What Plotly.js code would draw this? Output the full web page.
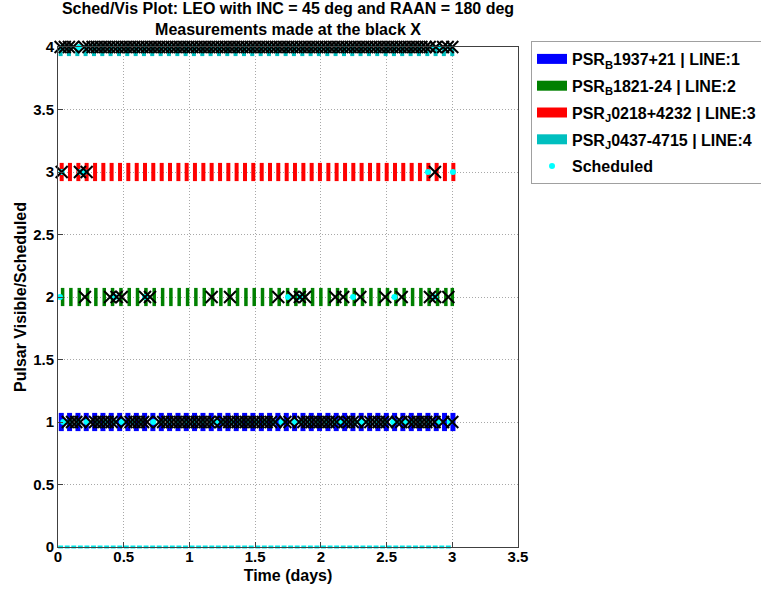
<!DOCTYPE html>
<html>
<head>
<meta charset="utf-8">
<script src="https://cdn.plot.ly/plotly-3.0.1.min.js"></script>
<style>html,body{margin:0;padding:0;background:#fff;}#chart{width:761px;height:590px;}</style>
</head>
<body>
<div id="chart"></div>
<script>
// ---- Data ----
const lineNames = [
  "PSR<sub>B</sub>1937+21 | LINE:1",
  "PSR<sub>B</sub>1821-24 | LINE:2",
  "PSR<sub>J</sub>0218+4232 | LINE:3",
  "PSR<sub>J</sub>0437-4715 | LINE:4"
];
const lineLevels = [1, 2, 3, 4];
const lineColors = ["#0000ff", "#008000", "#ff0000", "#00bfbf"];

// visibility windows (days) for each pulsar line
const visLine1 = [0.025,0.088,0.152,0.215,0.279,0.342,0.405,0.469,0.532,0.596,0.659,0.722,0.786,0.849,0.913,0.976,1.039,1.103,1.166,1.230,1.293,1.356,1.420,1.483,1.547,1.610,1.673,1.737,1.800,1.864,1.927,1.990,2.054,2.117,2.181,2.244,2.307,2.371,2.434,2.498,2.561,2.624,2.688,2.751,2.815,2.878,2.941,3.005];
const visLine2 = [0.035,0.098,0.162,0.225,0.288,0.352,0.415,0.479,0.542,0.605,0.669,0.732,0.796,0.859,0.922,0.986,1.049,1.113,1.176,1.239,1.303,1.366,1.430,1.493,1.556,1.620,1.683,1.747,1.810,1.873,1.937,2.000,2.064,2.127,2.190,2.254,2.317,2.381,2.444,2.507,2.571,2.634,2.698,2.761,2.824,2.888,2.951,3.000];
const visLine3 = [0.028,0.091,0.155,0.218,0.282,0.345,0.408,0.472,0.535,0.599,0.662,0.725,0.789,0.852,0.916,0.979,1.042,1.106,1.169,1.233,1.296,1.359,1.423,1.486,1.550,1.613,1.676,1.740,1.803,1.867,1.930,1.993,2.057,2.120,2.184,2.247,2.310,2.374,2.437,2.501,2.564,2.627,2.691,2.754,2.818,2.881,2.944,3.008];
const visLine4 = [0.020,0.083,0.147,0.210,0.274,0.337,0.400,0.464,0.527,0.591,0.654,0.717,0.781,0.844,0.908,0.971,1.034,1.098,1.161,1.225,1.288,1.351,1.415,1.478,1.542,1.605,1.668,1.732,1.795,1.859,1.922,1.985,2.049,2.112,2.176,2.239,2.302,2.366,2.429,2.493,2.556,2.619,2.683,2.746,2.810,2.873,2.936,3.000];

// scheduled times (days) per line; line 0 = nothing scheduled
const sched0 = [0.02,0.07,0.12,0.17,0.22,0.27,0.32,0.37,0.42,0.47,0.52,0.57,0.62,0.67,0.72,0.77,0.82,0.87,0.92,0.97,1.02,1.07,1.12,1.17,1.22,1.27,1.32,1.37,1.42,1.47,1.52,1.57,1.62,1.67,1.72,1.77,1.82,1.87,1.92,1.97,2.02,2.07,2.12,2.17,2.22,2.27,2.32,2.37,2.42,2.47,2.52,2.57,2.62,2.67,2.72,2.77,2.82,2.87,2.92,2.97];
const sched1 = [0.04,0.091,0.155,0.218,0.297,0.361,0.424,0.485,0.568,0.631,0.725,0.786,0.849,0.913,0.976,1.039,1.103,1.166,1.207,1.256,1.319,1.383,1.446,1.509,1.573,1.636,1.70,1.80,1.851,1.914,1.977,2.041,2.104,2.146,2.196,2.259,2.31,2.361,2.424,2.487,2.55,2.596,2.64,2.691,2.754,2.817,2.89,2.98];
const sched2 = [0.015,0.434,0.662,1.75,1.84,2.245,2.56,2.87];
const sched3 = [0.028,0.17,0.20,2.815,3.005];
const sched4 = [0.036,0.099,0.16,0.216,0.279,0.342,0.405,0.469,0.532,0.596,0.659,0.722,0.786,0.849,0.913,0.976,1.039,1.103,1.166,1.23,1.293,1.356,1.42,1.483,1.547,1.61,1.673,1.737,1.80,1.864,1.927,1.99,2.054,2.117,2.181,2.244,2.307,2.371,2.434,2.498,2.561,2.624,2.688,2.751,2.85,2.90,2.98];

// measurement times (days) per line (black X)
const meas1 = [0.075,0.107,0.139,0.17,0.25,0.282,0.313,0.345,0.377,0.408,0.44,0.52,0.552,0.583,0.615,0.647,0.678,0.77,0.80,0.833,0.865,0.897,0.928,0.96,0.992,1.023,1.055,1.087,1.118,1.15,1.182,1.24,1.272,1.303,1.335,1.367,1.398,1.43,1.462,1.493,1.525,1.557,1.588,1.62,1.652,1.73,1.762,1.835,1.867,1.898,1.93,1.962,1.993,2.025,2.057,2.088,2.12,2.18,2.212,2.243,2.275,2.345,2.377,2.408,2.44,2.472,2.503,2.58,2.612,2.675,2.707,2.738,2.77,2.802,2.833,2.865,2.93,3.0];
const meas2 = [0.205,0.396,0.446,0.485,0.662,0.70,1.169,1.309,1.676,1.79,1.84,1.88,2.11,2.17,2.30,2.49,2.615,2.83,2.87,2.97];
const meas3 = [0.028,0.167,0.218,2.868];
const meas4 = [0.020,0.052,0.083,0.115,0.200,0.232,0.263,0.295,0.327,0.358,0.390,0.422,0.453,0.485,0.517,0.548,0.580,0.612,0.643,0.675,0.707,0.738,0.770,0.802,0.833,0.865,0.897,0.928,0.960,0.992,1.023,1.055,1.087,1.118,1.150,1.182,1.213,1.245,1.277,1.308,1.340,1.372,1.403,1.435,1.467,1.498,1.530,1.562,1.593,1.625,1.657,1.688,1.720,1.752,1.783,1.815,1.847,1.878,1.910,1.942,1.973,2.005,2.037,2.068,2.100,2.132,2.163,2.195,2.227,2.258,2.290,2.322,2.353,2.385,2.417,2.448,2.480,2.512,2.543,2.575,2.607,2.638,2.670,2.702,2.733,2.765,2.797,2.828,2.875,2.930,2.965,3.000];

const xTicks = [0, 0.5, 1, 1.5, 2, 2.5, 3, 3.5];
const yTicks = [0, 0.5, 1, 1.5, 2, 2.5, 3, 3.5, 4];

// ---- Build traces ----
const FONT = "Liberation Sans, Arial, Helvetica, sans-serif";
const visAll = [visLine1, visLine2, visLine3, visLine4];
const schedAll = [sched1, sched2, sched3, sched4];
const measAll = [meas1, meas2, meas3, meas4];
const barWidths = [5, 3.5, 4, 4];

const traces = [];
// legend entries (colour patches)
lineNames.forEach((nm, i) => {
  traces.push({type: "scatter", mode: "lines", x: [null], y: [null], name: nm,
    legendgroup: "g" + i, line: {color: lineColors[i], width: 10}, hoverinfo: "skip"});
});
// visibility bars
visAll.forEach((xs, i) => {
  traces.push({type: "scatter", mode: "markers", x: xs, y: xs.map(() => lineLevels[i]),
    showlegend: false, cliponaxis: true, hoverinfo: "skip",
    marker: {symbol: "line-ns-open", size: 13, color: lineColors[i], line: {color: lineColors[i], width: barWidths[i]}}});
});
// nothing scheduled (line 0)
traces.push({type: "scatter", mode: "markers", x: sched0, y: sched0.map(() => 0),
  showlegend: false, cliponaxis: false, hoverinfo: "skip",
  marker: {symbol: "line-ew-open", size: 3.5, color: "#00e5e5", line: {color: "#00e5e5", width: 3}}});
// scheduled dots
const sx = [], sy = [];
schedAll.forEach((xs, i) => xs.forEach(v => { sx.push(v); sy.push(lineLevels[i]); }));
traces.push({type: "scatter", mode: "markers", x: sx, y: sy, name: "Scheduled",
  legendgroup: "sched", cliponaxis: false, hoverinfo: "skip",
  marker: {symbol: "circle", size: 6, color: "#00ffff"}});
// measurements
const mx = [], my = [];
measAll.forEach((xs, i) => xs.forEach(v => { mx.push(v); my.push(lineLevels[i]); }));
traces.push({type: "scatter", mode: "markers", x: mx, y: my, showlegend: false,
  cliponaxis: false, hoverinfo: "skip",
  marker: {symbol: "x-thin-open", size: 12, color: "#000000", line: {color: "#000000", width: 2}}});

const axisCommon = {
  showline: true, linecolor: "#404040", linewidth: 1, mirror: true,
  ticks: "inside", ticklen: 5, tickcolor: "#404040",
  showgrid: true, gridcolor: "#a8a8a8", gridwidth: 1, griddash: "1px,2px",
  zeroline: false, tickfont: {family: FONT, size: 15, color: "#000", weight: "bold"}
};

const layout = {
  width: 761, height: 590,
  margin: {l: 58, r: 243, t: 47, b: 43},
  paper_bgcolor: "#ffffff", plot_bgcolor: "#ffffff",
  font: {family: FONT, color: "#000"},
  showlegend: true,
  title: {
    text: "Sched/Vis Plot: LEO with INC = 45 deg and RAAN = 180 deg<br>Measurements made at the black X",
    font: {family: FONT, size: 16, color: "#000", weight: "bold"},
    x: 0.5, xref: "paper", xanchor: "center", y: 0.9755, yref: "container", yanchor: "middle"
  },
  xaxis: Object.assign({}, axisCommon, {
    range: [0, 3.5], tickvals: xTicks, ticktext: xTicks.map(String), ticklabelstandoff: -4,
    title: {text: "Time (days)", font: {family: FONT, size: 16, color: "#000", weight: "bold"}, standoff: 5}
  }),
  yaxis: Object.assign({}, axisCommon, {
    range: [0, 4], tickvals: yTicks, ticktext: yTicks.map(String),
    title: {text: "Pulsar Visible/Scheduled", font: {family: FONT, size: 16, color: "#000", weight: "bold"}, standoff: 2}
  }),
  legend: {
    xref: "container", yref: "container",
    x: 0.6978, y: 0.9305, xanchor: "left", yanchor: "top",
    bgcolor: "#ffffff", bordercolor: "#a0a0a0", borderwidth: 1,
    font: {family: FONT, size: 16, color: "#000", weight: "bold"},
    itemwidth: 30, traceorder: "grouped", tracegroupgap: 3
  }
};

Plotly.newPlot("chart", traces, layout, {staticPlot: true, displayModeBar: false});
</script>
</body>
</html>
